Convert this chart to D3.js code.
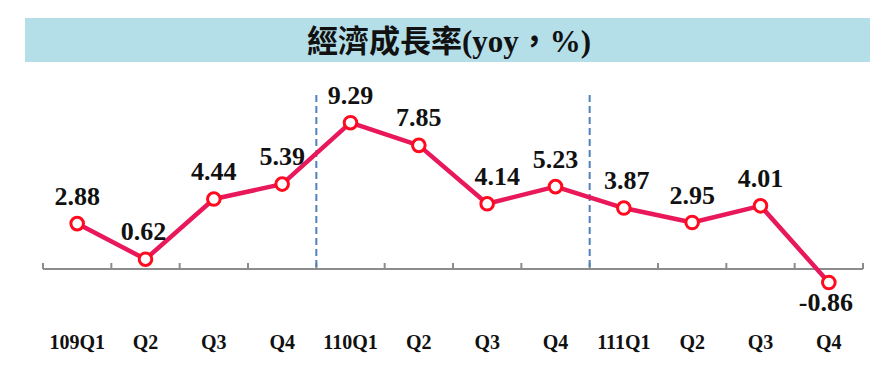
<!DOCTYPE html>
<html>
<head>
<meta charset="utf-8">
<script src="https://cdn.jsdelivr.net/npm/d3@7"></script>
<style>
  body { margin: 0; background: #fff; }
  svg { display: block; }
</style>
</head>
<body>
<svg id="chart"></svg>
<script>
// data
const quarters = ["109Q1", "Q2", "Q3", "Q4", "110Q1", "Q2", "Q3", "Q4", "111Q1", "Q2", "Q3", "Q4"];
const growth = [2.88, 0.62, 4.44, 5.39, 9.29, 7.85, 4.14, 5.23, 3.87, 2.95, 4.01, -0.86];
const yearStarts = [4, 8]; // dashed separators before 110Q1 and 111Q1
const titleText = "經濟成長率(yoy，%)";

const width = 895;
const height = 369;

const svg = d3.select("#chart")
    .attr("width", width)
    .attr("height", height);

// title band
svg.append("rect")
    .attr("x", 25)
    .attr("y", 18)
    .attr("width", 845)
    .attr("height", 44)
    .attr("fill", "#b4dfe8");

svg.append("text")
    .attr("x", 449)
    .attr("y", 52)
    .attr("text-anchor", "middle")
    .attr("font-family", "'Liberation Serif', 'Noto Sans CJK TC', serif")
    .attr("font-weight", "bold")
    .attr("font-size", 31)
    .attr("fill", "#111")
    .text(titleText);

const xScale = d3.scaleBand()
    .domain(d3.range(quarters.length))
    .range([43, 863])
    .padding(0);

const yScale = d3.scaleLinear()
    .domain([-0.86, 9.29])
    .range([282.5, 122.7]);

const cx = i => xScale(i) + xScale.bandwidth() / 2;

// zero axis with upward ticks
svg.append("line")
    .attr("x1", 43).attr("x2", 863)
    .attr("y1", yScale(0)).attr("y2", yScale(0))
    .attr("stroke", "#8c8c8c")
    .attr("stroke-width", 2);

svg.selectAll(".tick")
    .data(d3.range(quarters.length + 1))
    .enter()
    .append("line")
    .attr("class", "tick")
    .attr("x1", d => d === quarters.length ? 863 : xScale(d))
    .attr("x2", d => d === quarters.length ? 863 : xScale(d))
    .attr("y1", yScale(0))
    .attr("y2", yScale(0) - 6)
    .attr("stroke", "#8c8c8c")
    .attr("stroke-width", 2);

// dashed year separators
svg.selectAll(".sep")
    .data(yearStarts)
    .enter()
    .append("line")
    .attr("class", "sep")
    .attr("x1", d => xScale(d))
    .attr("x2", d => xScale(d))
    .attr("y1", 95)
    .attr("y2", yScale(0))
    .attr("stroke", "#4f81bd")
    .attr("stroke-width", 2)
    .attr("stroke-dasharray", "7,4");

// line
const line = d3.line()
    .x((d, i) => cx(i))
    .y(d => yScale(d));

svg.append("path")
    .datum(growth)
    .attr("d", line)
    .attr("fill", "none")
    .attr("stroke", "#e8185a")
    .attr("stroke-width", 4.5)
    .attr("stroke-linejoin", "round");

svg.selectAll(".dot")
    .data(growth)
    .enter()
    .append("circle")
    .attr("class", "dot")
    .attr("cx", (d, i) => cx(i))
    .attr("cy", d => yScale(d))
    .attr("r", 6.3)
    .attr("fill", "#fff")
    .attr("stroke", "#ff0a1e")
    .attr("stroke-width", 3);

// value labels
const labelDx = [0, -2, 0, 0, 0, 0, 10, 0, 3, 0, 0, -3];
svg.selectAll(".val")
    .data(growth)
    .enter()
    .append("text")
    .attr("class", "val")
    .attr("x", (d, i) => cx(i) + labelDx[i])
    .attr("y", d => d < 0 ? yScale(d) + 28 : yScale(d) - 19)
    .attr("text-anchor", "middle")
    .attr("font-family", "'Liberation Serif', serif")
    .attr("font-weight", "bold")
    .attr("font-size", 26)
    .attr("fill", "#111")
    .text(d => d.toFixed(2));

// category labels
svg.selectAll(".cat")
    .data(quarters)
    .enter()
    .append("text")
    .attr("class", "cat")
    .attr("x", (d, i) => cx(i))
    .attr("y", 349)
    .attr("text-anchor", "middle")
    .attr("font-family", "'Liberation Serif', serif")
    .attr("font-weight", "bold")
    .attr("font-size", 20)
    .attr("fill", "#111")
    .text(d => d);
</script>
</body>
</html>
